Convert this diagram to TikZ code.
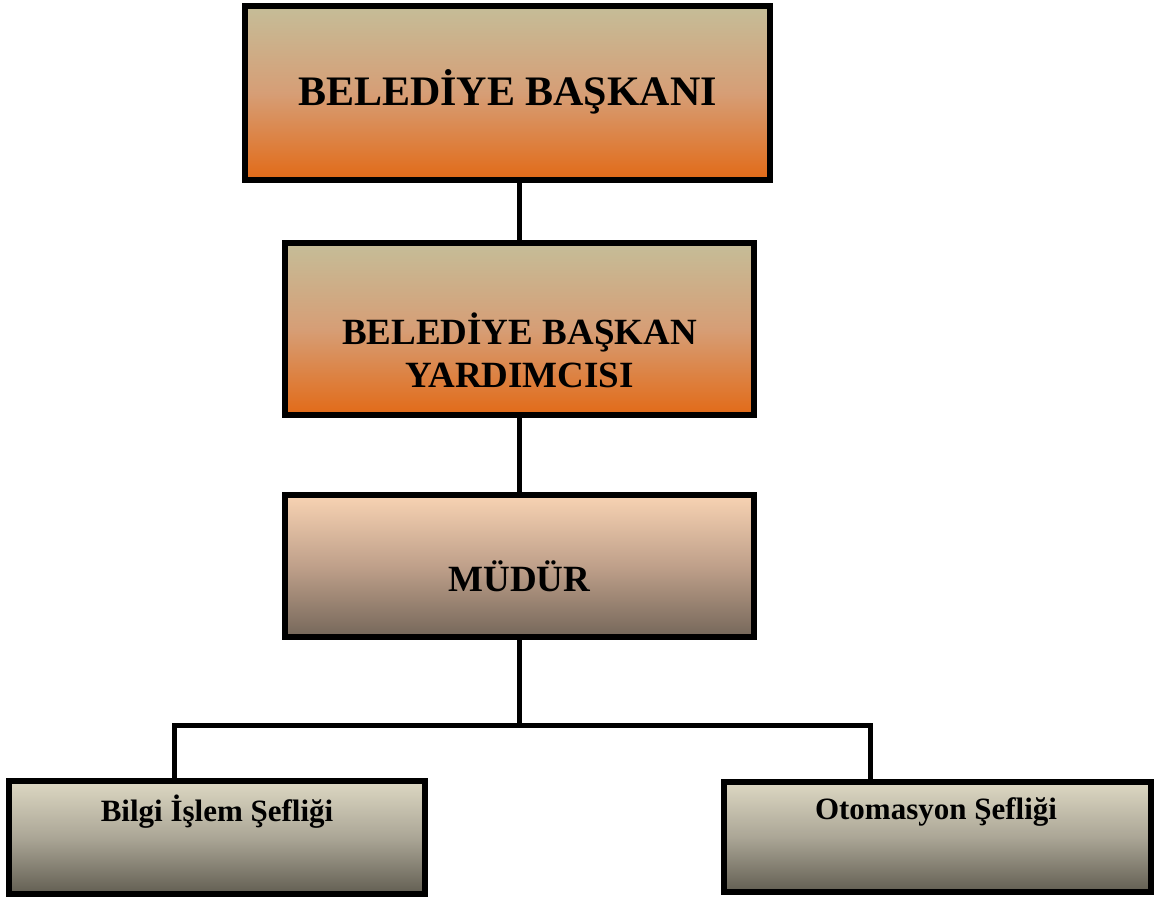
\documentclass[tikz,border=0pt]{standalone}
\usepackage{fontspec}
\setmainfont{Liberation Serif}
\definecolor{tanT}{HTML}{C5BD98}
\definecolor{tanM}{HTML}{D69E76}
\definecolor{orB}{HTML}{E26A17}
\definecolor{pkT}{HTML}{F8D3B3}
\definecolor{pkM}{HTML}{BFA08A}
\definecolor{pkB}{HTML}{75675A}
\definecolor{grT}{HTML}{DDD8C3}
\definecolor{grM}{HTML}{ABA696}
\definecolor{grB}{HTML}{625E52}
\tikzset{
  box/.style={draw=black, line width=5.5pt, rectangle, inner sep=0pt},
  orangebox/.style={box, top color=tanT, bottom color=orB, middle color=tanM},
  peachbox/.style={box, top color=pkT, bottom color=pkB, middle color=pkM},
  greybox/.style={box, top color=grT, bottom color=grB, middle color=grM},
  txt/.style={font=\bfseries, align=center, inner sep=0pt},
  conn/.style={line width=5pt, black}
}
\begin{document}
\begin{tikzpicture}[x=1pt, y=-1pt]
\useasboundingbox (0,0) rectangle (1164,898);
% boxes
\node[orangebox, minimum width=525pt, minimum height=174pt] (b1) at (507.5,93) {};
\node[txt, font=\bfseries\fontsize{42}{50}\selectfont] (t1) at (507.5,92) {BELEDİYE BAŞKANI};
\node[orangebox, minimum width=469pt, minimum height=172pt] (b2) at (519.5,329) {};
\node[txt, font=\bfseries\fontsize{37}{43}\selectfont] (t2) at (519.5,350) {BELEDİYE BAŞKAN\\YARDIMCISI};
\node[peachbox, minimum width=469pt, minimum height=142pt] (b3) at (519.5,566) {};
\node[txt, font=\bfseries\fontsize{37}{43}\selectfont] (t3) at (519.5,576) {MÜDÜR};
\node[greybox, minimum width=416pt, minimum height=113pt] (b4) at (217,837.5) {};
\node[txt, font=\bfseries\fontsize{31}{36}\selectfont] (t4) at (217,812) {Bilgi İşlem Şefliği};
\node[greybox, minimum width=427pt, minimum height=110pt] (b5) at (937.5,837) {};
\node[txt, font=\bfseries\fontsize{31}{36}\selectfont] (t5) at (936,812) {Otomasyon Şefliği};
% connectors
\coordinate (fork) at (519.5,725);
\coordinate (lft) at (174,725);
\coordinate (rgt) at (870,725);
\draw[conn] (b2.north |- b1.south) -- (b2.north);
\draw[conn] (b2.south) -- (b3.north);
\draw[conn] (b3.south) -- (fork);
\draw[conn, line cap=rect] (lft) -- (rgt);
\draw[conn] (lft) -- (lft |- b4.north);
\draw[conn] (rgt) -- (rgt |- b5.north);
\end{tikzpicture}
\end{document}
